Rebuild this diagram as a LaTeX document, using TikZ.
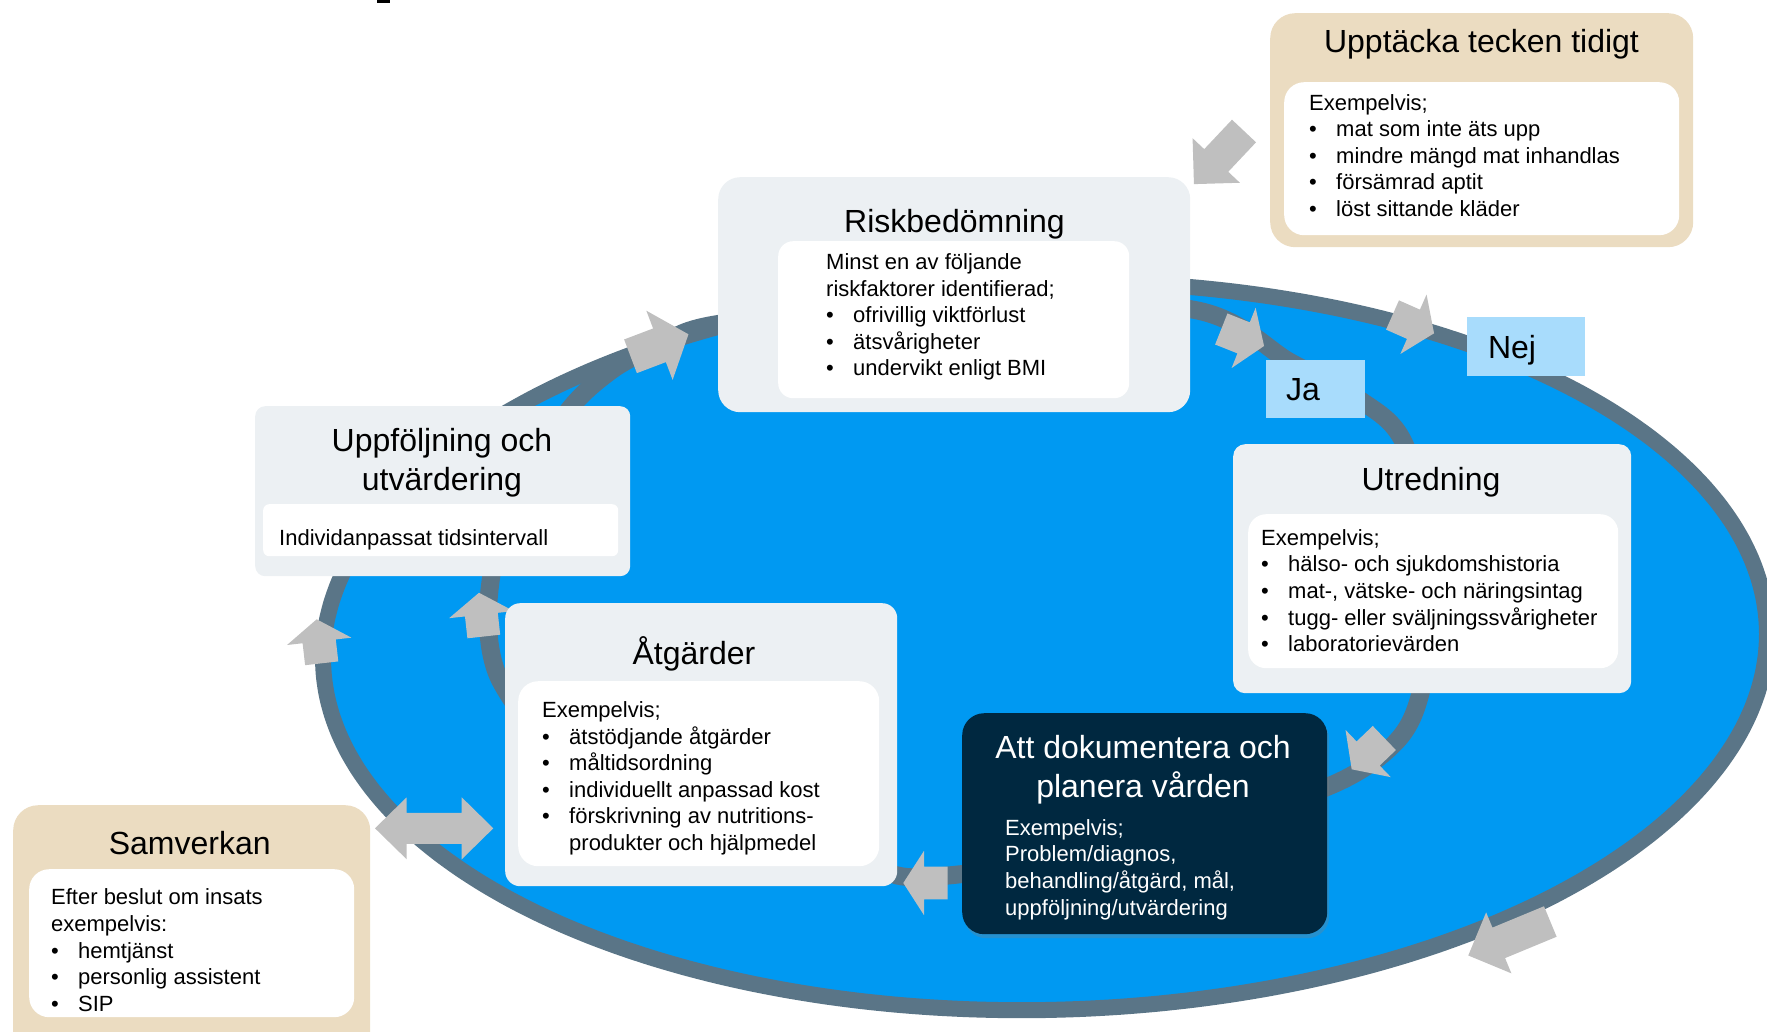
\documentclass[tikz,border=0pt]{standalone}
\usepackage{fontspec}
\setmainfont{Liberation Sans}
\usetikzlibrary{shadows}

\definecolor{lakeblue}{HTML}{0099F2}
\definecolor{ringgrey}{HTML}{5A7587}
\definecolor{boxgrey}{HTML}{ECF0F3}
\definecolor{sand}{HTML}{EBDCC1}
\definecolor{paleblue}{HTML}{A8DCFC}
\definecolor{navy}{HTML}{002840}
\definecolor{arrowgrey}{HTML}{BFBFBF}

\newcommand{\itm}[1]{\makebox[27pt][l]{\textbullet}#1}
\newcommand{\topline}{\rule{0pt}{17pt}}
\newcommand{\toptitle}{\rule{0pt}{25pt}}
\newcommand{\ringarrow}[6]{%
  \fill[arrowgrey, shift={#1}, rotate=#2]
    (0,-#6) -- ({#3-#4},-#6) -- ({#3-#4},-#5) -- (#3,0)
    -- ({#3-#4},#5) -- ({#3-#4},#6) -- (0,#6) -- cycle;}

\tikzset{
  sandbox/.style={fill=sand, rounded corners=25pt, anchor=north west, inner sep=0pt},
  greybox/.style={fill=boxgrey, anchor=north west, inner sep=0pt},
  whitebox/.style={fill=white, anchor=north west, inner sep=0pt},
  labelbox/.style={fill=paleblue, anchor=north west, inner sep=0pt},
  boxtitle/.style={font=\fontsize{32}{38.5}\selectfont, align=center, inner sep=0pt},
  boxtext/.style={font=\fontsize{22}{26.6}\selectfont, align=left, inner sep=0pt, anchor=north west},
  ringline/.style={draw=ringgrey}
}

\begin{document}
\begin{tikzpicture}[x=1pt, y=-1pt]
\useasboundingbox (0,0) rectangle (1767,1032);
\clip (0,0) rectangle (1767,1032);

\fill (377,0) rectangle (390,3);

\draw[ringline, line width=16pt, fill=lakeblue]
  plot[variable=\t, domain=0:357, samples=120, smooth cycle]
  ({1045+722*cos(\t)}, {646+364*sin(\t)-12*cos(\t)});
\draw[ringline, line width=18pt] plot[smooth cycle] coordinates {
  (565,415) (612,370) (660,345) (718,324) (950,298) (1195,310) (1290,362)
  (1360,400) (1404,443) (1440,570) (1420,695) (1393,745) (1327,787)
  (1150,845) (930,877) (860,862) (700,810) (560,750) (500,680) (488,610)
  (505,520)};

\ringarrow{(630.5,356.3)}{20.8}{62}{31}{37}{18}
\ringarrow{(1244,131)}{226.7}{73}{32.5}{32.5}{16.5}
\ringarrow{(1221.3,329)}{-21.7}{46}{22}{32.5}{16.7}
\ringarrow{(1392.5,315)}{-23.8}{45.4}{22.5}{32.5}{16}
\ringarrow{(1384.3,738)}{223.8}{45.2}{22.8}{32.7}{16.7}
\ringarrow{(1550.3,921.5)}{202.5}{88.8}{33}{33}{16.5}
\ringarrow{(947.7,883)}{180}{44.4}{20.7}{32.2}{16.3}
\ringarrow{(483.8,636.5)}{96.3}{44}{22}{32.5}{16.5}
\ringarrow{(321.7,663.3)}{96.5}{44.3}{22.2}{32.4}{16.7}
\fill[arrowgrey] (375,828.3) -- (406.7,797.3) -- (406.7,812.8) -- (461.7,812.8)
  -- (461.7,797.3) -- (493.3,828.3) -- (461.7,859.3) -- (461.7,843.8)
  -- (406.7,843.8) -- (406.7,859.3) -- cycle;

\node[sandbox, minimum width=423pt, minimum height=234pt] (detect) at (1270,13) {};
\node[whitebox, rounded corners=20pt, minimum width=395pt, minimum height=153pt] (detect inner) at (1284,82) {};
\node[boxtitle, anchor=base] (detect title) at (1481.5,52.7) {Upptäcka tecken tidigt};
\node[boxtext] (detect text) at (1309,93) {\topline Exempelvis;\\
  \itm{mat som inte äts upp}\\ \itm{mindre mängd mat inhandlas}\\
  \itm{försämrad aptit}\\ \itm{löst sittande kläder}};

\node[greybox, rounded corners=22pt, minimum width=472pt, minimum height=235pt] (risk) at (718,177) {};
\node[whitebox, rounded corners=15pt, minimum width=351pt, minimum height=157pt] (risk inner) at (778,241) {};
\node[boxtitle, anchor=base] (risk title) at (954.5,232.7) {Riskbedömning};
\node[boxtext] (risk text) at (826,252.3) {\topline Minst en av följande\\
  riskfaktorer identifierad;\\ \itm{ofrivillig viktförlust}\\
  \itm{ätsvårigheter}\\ \itm{undervikt enligt BMI}};

\node[labelbox, minimum width=99pt, minimum height=58pt] (yes) at (1266,360) {};
\node[boxtitle, anchor=base west] (yes text) at (1285.8,400) {Ja};
\node[labelbox, minimum width=118pt, minimum height=59pt] (no) at (1467,317) {};
\node[boxtitle, anchor=base west] (no text) at (1487.8,358) {Nej};

\node[greybox, rounded corners=12pt, minimum width=398pt, minimum height=249pt] (inquiry) at (1233,444) {};
\node[whitebox, rounded corners=18pt, minimum width=370pt, minimum height=154pt] (inquiry inner) at (1248,514) {};
\node[boxtitle, anchor=base] (inquiry title) at (1431,490.7) {Utredning};
\node[boxtext] (inquiry text) at (1261,528) {\topline Exempelvis;\\
  \itm{hälso- och sjukdomshistoria}\\ \itm{mat-, vätske- och näringsintag}\\
  \itm{tugg- eller sväljningssvårigheter}\\ \itm{laboratorievärden}};

\node[greybox, rounded corners=10pt, minimum width=375pt, minimum height=170pt] (followup) at (255,406) {};
\node[whitebox, rounded corners=6pt, minimum width=355pt, minimum height=52pt] (followup inner) at (263,504) {};
\node[boxtitle, anchor=north] (followup title) at (442,426.5) {\toptitle Uppföljning och\\utvärdering};
\node[boxtext] (followup text) at (279,528.5) {\topline Individanpassat tidsintervall};

\node[greybox, rounded corners=15pt, minimum width=392pt, minimum height=283pt] (measures) at (505,603) {};
\node[whitebox, rounded corners=20pt, minimum width=361pt, minimum height=185pt] (measures inner) at (518,681) {};
\node[boxtitle, anchor=base] (measures title) at (694,664) {Åtgärder};
\node[boxtext] (measures text) at (542,700.3) {\topline Exempelvis;\\
  \itm{ätstödjande åtgärder}\\ \itm{måltidsordning}\\
  \itm{individuellt anpassad kost}\\ \itm{förskrivning av nutritions-}\\
  \hspace*{27pt}produkter och hjälpmedel};

\node[fill=navy, rounded corners=22pt, anchor=north west, inner sep=0pt,
  minimum width=365pt, minimum height=221pt,
  drop shadow={shadow xshift=2pt, shadow yshift=-4pt, opacity=0.3}] (document) at (962,713) {};
\node[boxtitle, anchor=north, text=white] (document title) at (1143,733.3) {\toptitle Att dokumentera och\\planera vården};
\node[boxtext, text=white] (document text) at (1005,818) {\topline Exempelvis;\\
  Problem/diagnos,\\ behandling/åtgärd, mål,\\ uppföljning/utvärdering};

\node[sandbox, minimum width=357pt, minimum height=260pt] (collab) at (13,805) {};
\node[whitebox, rounded corners=20pt, minimum width=325pt, minimum height=148pt] (collab inner) at (29,869) {};
\node[boxtitle, anchor=base] (collab title) at (189.7,854) {Samverkan};
\node[boxtext] (collab text) at (51,887.7) {\topline Efter beslut om insats\\
  exempelvis:\\ \itm{hemtjänst}\\ \itm{personlig assistent}\\ \itm{SIP}};
\end{tikzpicture}
\end{document}
